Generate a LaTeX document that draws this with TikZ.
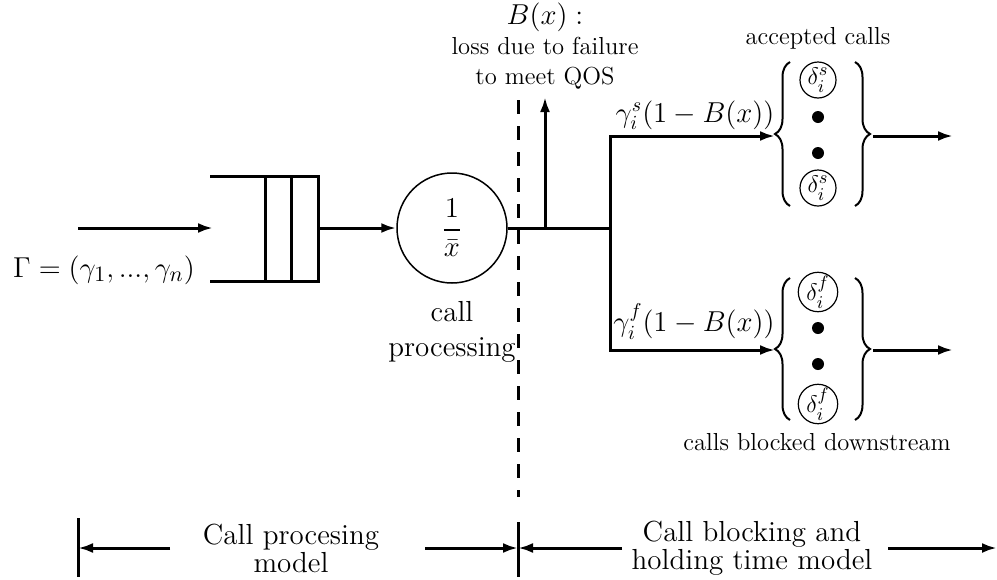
\documentclass[tikz,border=0pt]{standalone}
\usepackage{amsmath,amssymb}
\usetikzlibrary{arrows.meta,positioning,decorations.pathreplacing}

\begin{document}
\begin{tikzpicture}[x=0.5pt,y=-0.5pt,
    line width=1.5pt, >={Latex[length=7.5pt,width=5pt]},
    font=\fontsize{14.5}{17.4}\selectfont,
    small/.style={font=\fontsize{12.3}{15}\selectfont},
    big/.style={font=\fontsize{15.5}{18}\selectfont},
    srvbox/.style={draw,circle,line width=0.75pt,minimum size=55pt,inner sep=0pt,font=\fontsize{15.5}{18}\selectfont},
    callbox/.style={draw,circle,line width=0.6pt,minimum size=18pt,inner sep=0pt,font=\fontsize{13}{15}\selectfont},
    dotbox/.style={fill,circle,minimum size=6pt,inner sep=0pt},
    brc/.style={decorate,decoration={brace,amplitude=7.5pt},line width=1pt},
    twoline/.style={align=center,font=\fontsize{14.5}{14}\selectfont}]
\useasboundingbox (0,0) rectangle (997,579);
% arrivals and queue
\coordinate (src) at (78,228);
\coordinate (qin) at (213,228);
\coordinate (qout) at (318,228);
\draw[->] (src) -- (qin);
\draw (210,176) -- (318,176) -- (318,281) -- (210,281);
\foreach \x in {265,291} \draw (\x,176) -- (\x,281);
\node[big] (gam) at (104,270) {$\Gamma=(\gamma_1,...,\gamma_n)$};
% call processing
\node[srvbox] (srv) at (452,228) {$\displaystyle\frac{1}{\bar{x}}$};
\node[align=center] (srvlbl) at (452,332) {call\\processing};
\draw[->] (qout) -- (srv);
\coordinate (tap) at (545,228);
\coordinate (jn) at (610,228);
\coordinate (qostip) at (545,97);
\draw (srv) -- (jn);
\draw[->] (tap) -- (qostip);
\node[big] (bx) at (545,17) {$B(x):$};
\node[small,align=center] (qos) at (545,63) {loss due to failure\\to meet QOS};
\draw[dashed,dash pattern=on 7pt off 6pt] (518,100) -- (518,497);
% accepted calls
\node[callbox] (s1) at (818,80) {$\delta_i^s$};
\node[dotbox] (s2) at (818,117) {};
\node[dotbox] (s3) at (818,153) {};
\node[callbox] (s4) at (818,188) {$\delta_i^s$};
\draw[brc] (790,206) -- (790,62);
\draw[brc] (855,62) -- (855,206);
\coordinate (sin) at (775,136);
\coordinate (sout) at (873,136);
\coordinate (send) at (953,136);
\draw[->] (jn) |- (sin);
\draw[->] (sout) -- (send);
\node[anchor=south,inner sep=1pt] (slbl) at (695,133) {$\gamma_i^s(1-B(x))$};
\node[small] (acc) at (818,38) {accepted calls};
% blocked calls
\node[callbox] (f1) at (818,292) {$\delta_i^f$};
\node[dotbox] (f2) at (818,328) {};
\node[dotbox] (f3) at (818,364) {};
\node[callbox] (f4) at (818,404) {$\delta_i^f$};
\draw[brc] (790,420) -- (790,278);
\draw[brc] (855,278) -- (855,420);
\coordinate (fin) at (775,350);
\coordinate (fout) at (873,350);
\coordinate (fend) at (953,350);
\draw[->] (jn) |- (fin);
\draw[->] (fout) -- (fend);
\node[anchor=south,inner sep=1pt] (flbl) at (694,343) {$\gamma_i^f(1-B(x))$};
\node[small] (blk) at (817,442) {calls blocked downstream};
% model extents
\coordinate (ltick) at (78,548);
\coordinate (mtick) at (518,548);
\coordinate (rend) at (997,548);
\draw (78,518) -- (78,577);
\draw (518,522) -- (518,577);
\node[twoline] (cpm) at (291,548) {Call procesing\\model};
\node[twoline] (chm) at (752,548) {Call blocking and\\holding time model};
\coordinate (a1) at (170,548);
\coordinate (a2) at (425,548);
\coordinate (a3) at (622,548);
\coordinate (a4) at (888,548);
\draw[->] (a1) -- (ltick);
\draw[->] (a2) -- (mtick);
\draw[->] (a3) -- (mtick);
\draw[->] (a4) -- (rend);
\end{tikzpicture}
\end{document}
